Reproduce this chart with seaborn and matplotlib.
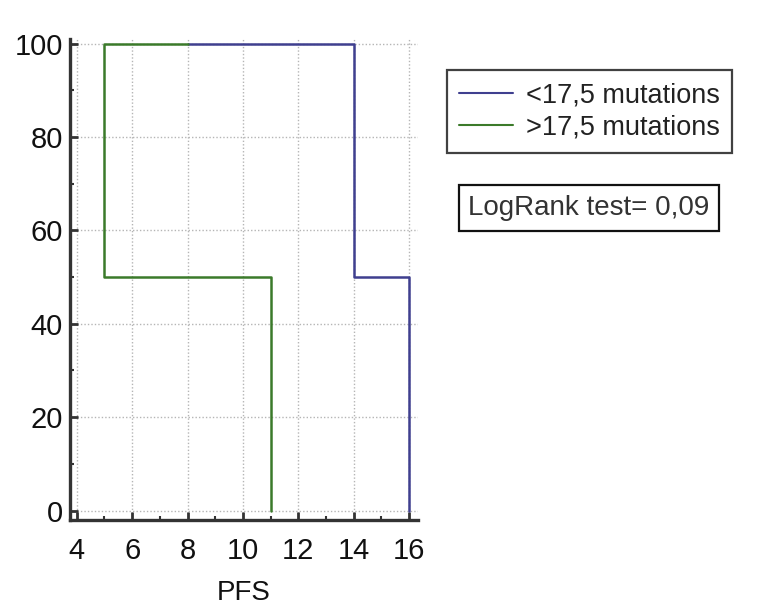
import matplotlib
matplotlib.use("Agg")
import matplotlib.pyplot as plt
import seaborn as sns
import pandas as pd
from matplotlib.ticker import MultipleLocator

# Kaplan-Meier style step curves (PFS vs. % progression-free)
low_pfs = [8, 14, 14, 16, 16]
low_surv = [100, 100, 50, 50, 0]
high_pfs = [8, 5, 5, 11, 11]
high_surv = [100, 100, 50, 50, 0]
group_labels = ["<17,5 mutations", ">17,5 mutations"]
x_ticks = [4, 6, 8, 10, 12, 14, 16]
y_ticks = [0, 20, 40, 60, 80, 100]
logrank_text = "LogRank test= 0,09"

df = pd.concat([
    pd.DataFrame({"PFS": low_pfs, "surv": low_surv, "group": group_labels[0],
                  "order": range(len(low_pfs))}),
    pd.DataFrame({"PFS": high_pfs, "surv": high_surv, "group": group_labels[1],
                  "order": range(len(high_pfs))}),
], ignore_index=True)

sns.set_theme(style="white")
plt.rcParams["font.family"] = ["Liberation Sans", "DejaVu Sans"]

fig = plt.figure(figsize=(7.59, 6.08), dpi=100)
ax = fig.add_axes([0.092, 0.145, 0.459, 0.791])

palette = {group_labels[0]: "#3f3f8f", group_labels[1]: "#3b7a2a"}
sns.lineplot(data=df, x="PFS", y="surv", hue="group", units="group",
             estimator=None, sort=False, palette=palette, linewidth=1.8,
             ax=ax, legend=False, zorder=3)

ax.set_xlim(3.75, 16.33)
ax.set_ylim(-2, 101)
ax.set_xticks(x_ticks)
ax.set_yticks(y_ticks)
ax.xaxis.set_minor_locator(MultipleLocator(1))
ax.yaxis.set_minor_locator(MultipleLocator(10))
ax.grid(True, which="major", linestyle=(0, (1, 1.5)), color="#b5b5b5", linewidth=1.0)
ax.tick_params(axis="both", which="major", direction="in", length=6, width=2,
               color="#333333", labelsize=21, labelcolor="#111111", pad=5)
ax.tick_params(axis="x", which="major", pad=12)
ax.tick_params(axis="both", which="minor", direction="in", length=3, width=1.5,
               color="#333333")
ax.tick_params(axis="x", which="both", bottom=True)
ax.tick_params(axis="y", which="both", left=True)

for side in ["top", "right"]:
    ax.spines[side].set_visible(False)
for side in ["left", "bottom"]:
    ax.spines[side].set_color("#333333")
    ax.spines[side].set_linewidth(2.4)

ax.set_xlabel("PFS", fontsize=20, color="#111111", labelpad=11)
ax.set_ylabel("")

handles = [plt.Line2D([], [], color=palette[g], linewidth=1.5) for g in group_labels]
leg = fig.legend(handles, group_labels, loc="upper left",
                 bbox_to_anchor=(447 / 759, 1 - 70 / 608), fontsize=19.5,
                 frameon=True, fancybox=False, handlelength=2.0,
                 handletextpad=0.45, borderpad=0.45, labelspacing=0.25,
                 borderaxespad=0)
leg.get_frame().set_edgecolor("#111111")
leg.get_frame().set_linewidth(1.6)
for t in leg.get_texts():
    t.set_color("#222222")

fig.text(589 / 759, 1 - 208 / 608, logrank_text, fontsize=20, color="#333333",
         ha="center", va="center",
         bbox=dict(boxstyle="square,pad=0.35", facecolor="white",
                   edgecolor="#111111", linewidth=1.6))

fig.savefig("out.png", dpi=100)
